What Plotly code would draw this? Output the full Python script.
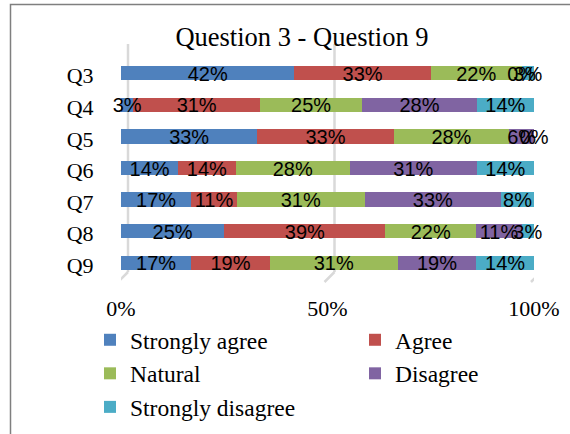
import plotly.graph_objects as go

categories = ["Q3", "Q4", "Q5", "Q6", "Q7", "Q8", "Q9"]
series_names = ["Strongly agree", "Agree", "Natural", "Disagree", "Strongly disagree"]
strongly_agree = [42, 3, 33, 14, 17, 25, 17]
agree = [33, 31, 33, 14, 11, 39, 19]
natural = [22, 25, 28, 28, 31, 22, 31]
disagree = [0, 28, 6, 31, 33, 11, 19]
strongly_disagree = [3, 14, 0, 14, 8, 3, 14]
colors = ["#4F81BD", "#C0504D", "#9BBB59", "#8064A2", "#4BACC6"]
x_ticks = [0, 50, 100]
x_tick_labels = ["0%", "50%", "100%"]

series = [strongly_agree, agree, natural, disagree, strongly_disagree]
legend_groups = ["legend", "legend2", "legend", "legend2", "legend"]

W, H = 570, 434
ml, mr, mt, mb = 121, 36, 60, 153
pw, ph = W - ml - mr, H - mt - mb

def px_x(p):
    return (p - ml) / pw

def px_y(p):
    return 1 - (p - mt) / ph

bar_w = 0.45
bar_shift = 0.08

fig = go.Figure()
for name, vals, col, lg in zip(series_names, series, colors, legend_groups):
    fig.add_trace(go.Bar(
        y=categories, x=vals, name=name, orientation="h",
        width=bar_w, offset=-bar_w / 2 - bar_shift,
        marker=dict(color=col, line=dict(width=0)),
        hoverinfo="skip", legend=lg,
    ))

# labels at segment midpoints (normalized to 100%)
totals = [sum(v[i] for v in series) for i in range(len(categories))]
cum = [0.0] * len(categories)
for vals in series:
    mids = []
    for i, v in enumerate(vals):
        n = v / totals[i] * 100
        mids.append(cum[i] + n / 2)
        cum[i] += n
    fig.add_trace(go.Scatter(
        x=mids, y=categories, mode="text",
        text=[f"{v}%" for v in vals],
        textposition="middle center",
        textfont=dict(family="Liberation Sans", size=20, color="#000000"),
        showlegend=False, hoverinfo="skip", cliponaxis=False,
    ))

shapes = []
grid_col = "#d9d9d9"
for v in x_ticks:
    shapes.append(dict(type="line", xref="x", xsizemode="pixel", xanchor=v,
                       x0=7, x1=7, yref="paper", y0=px_y(44), y1=px_y(272),
                       line=dict(color=grid_col, width=2.5), layer="below"))
    shapes.append(dict(type="line", xref="x", xsizemode="pixel", xanchor=v,
                       x0=7, x1=-3, yref="paper", y0=px_y(272), y1=px_y(282),
                       line=dict(color=grid_col, width=2.5), layer="below"))
shapes.append(dict(type="rect", xref="paper", yref="paper",
                   x0=px_x(10.5), x1=px_x(620), y0=px_y(4.5), y1=px_y(480),
                   line=dict(color="#7f7f7f", width=1.5), layer="below"))

legend_font = dict(family="Liberation Serif", size=23.5, color="#000")

fig.update_layout(
    width=W, height=H,
    margin=dict(l=ml, r=mr, t=mt, b=mb, autoexpand=False),
    barmode="stack", barnorm="percent",
    paper_bgcolor="white", plot_bgcolor="white",
    title=dict(text="Question 3 - Question 9", x=302 / W, xref="container", xanchor="center",
               y=1 - 37 / H, yanchor="middle", yref="container",
               font=dict(family="Liberation Serif", size=26.5, color="#000")),
    xaxis=dict(range=[0, 100], tickvals=x_ticks, ticktext=x_tick_labels,
               showgrid=False, zeroline=False,
               ticks="outside", ticklen=8, tickcolor="rgba(0,0,0,0)",
               showline=False,
               tickfont=dict(family="Liberation Serif", size=22, color="#000")),
    yaxis=dict(categoryorder="array", categoryarray=categories, autorange="reversed",
               showgrid=False, zeroline=False, showline=False,
               ticks="outside", ticklen=22, tickcolor="rgba(0,0,0,0)",
               tickfont=dict(family="Liberation Serif", size=22, color="#000")),
    legend=dict(orientation="v", x=px_x(90), y=px_y(318), xanchor="left", yanchor="top",
                font=legend_font, traceorder="normal", bgcolor="rgba(0,0,0,0)",
                tracegroupgap=0),
    legend2=dict(orientation="v", x=px_x(355), y=px_y(318), xanchor="left", yanchor="top",
                 font=legend_font, traceorder="normal", bgcolor="rgba(0,0,0,0)",
                 tracegroupgap=0),
    showlegend=True,
    shapes=shapes,
)

fig.write_html("out.html")
